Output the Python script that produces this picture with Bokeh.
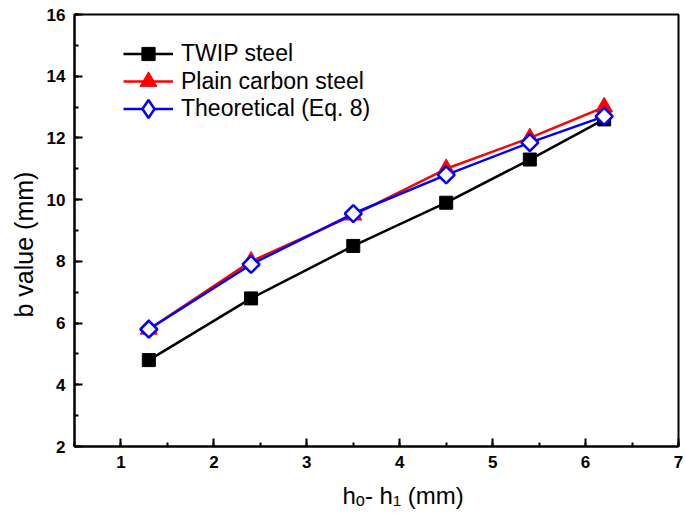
import math
from bokeh.plotting import figure
from bokeh.models import Range1d, SingleIntervalTicker, Legend, LegendItem, Title
from bokeh.embed import file_html
from bokeh.resources import INLINE

# ---- data ----
x_vals = [1.3, 2.4, 3.5, 4.5, 5.4, 6.2]
twip_steel = [4.8, 6.8, 8.5, 9.9, 11.3, 12.6]
plain_carbon = [5.8, 8.0, 9.5, 11.0, 12.0, 13.0]
theoretical = [5.8, 7.9, 9.55, 10.8, 11.85, 12.7]
series_names = ["TWIP steel", "Plain carbon steel", "Theoretical (Eq. 8)"]
y_axis_title = "b value (mm)"
x_axis_title = "h\u2092- h\u2081 (mm)"

FONT = "Liberation Sans"

p = figure(width=685, height=520, output_backend="svg", toolbar_location=None,
           x_range=Range1d(0.5, 7), y_range=Range1d(2, 16),
           min_border_left=74, min_border_right=7, min_border_top=14, min_border_bottom=74)
p.grid.visible = False
p.outline_line_color = "black"
p.outline_line_width = 2
p.background_fill_color = "white"
p.border_fill_color = "white"

p.xaxis.ticker = SingleIntervalTicker(interval=1, num_minor_ticks=2)
p.yaxis.ticker = SingleIntervalTicker(interval=2, num_minor_ticks=2)
for ax in (p.xaxis[0], p.yaxis[0]):
    ax.axis_line_width = 2
    ax.major_tick_line_width = 2
    ax.minor_tick_line_width = 2
    ax.major_tick_in = 8
    ax.major_tick_out = 0
    ax.minor_tick_in = 4
    ax.minor_tick_out = 0
    ax.major_label_text_font = FONT
    ax.major_label_text_font_style = "bold"
    ax.major_label_text_font_size = "17px"
    ax.major_label_text_color = "black"
    ax.major_label_standoff = 9

# ---- series ----
l1 = p.line(x_vals, twip_steel, line_color="black", line_width=2.5)
s1 = p.scatter(x_vals, twip_steel, marker="square", size=13, fill_color="black", line_color="black")
l2 = p.line(x_vals, plain_carbon, line_color="red", line_width=2.5)
s2 = p.scatter(x_vals, plain_carbon, marker="triangle", size=17, fill_color="red", line_color="red")
l3 = p.line(x_vals, theoretical, line_color="blue", line_width=2.5)
s3 = p.scatter(x_vals, theoretical, marker="square", angle=math.pi / 4, size=12,
               fill_color="white", line_color="blue", line_width=2.5)
# legend-only twin of the theoretical markers (legend glyphs are never rotated)
s3_leg = p.scatter(x_vals, theoretical, marker="diamond", size=18,
                   fill_color="white", line_color="blue", line_width=2.5, visible=False)

# one legend per row so that each legend marker keeps its own size
rows = [(series_names[0], [l1, s1], 33, 376),
        (series_names[1], [l2, s2], 42, 344),
        (series_names[2], [l3, s3_leg], 45, 315)]
for name, rends, gh, yoff in rows:
    lg = Legend(items=[LegendItem(label=name, renderers=rends)],
                location=(49, yoff), padding=0, margin=0, spacing=0,
                glyph_width=50, glyph_height=gh, label_height=gh, label_standoff=8,
                label_text_font=FONT, label_text_font_size="23px",
                label_text_color="black", click_policy="none",
                border_line_color=None, background_fill_alpha=0)
    p.add_layout(lg)

# ---- axis titles ----
p.add_layout(Title(text=x_axis_title, align="left", offset=268, standoff=19,
                   text_font=FONT, text_font_size="24px", text_font_style="normal",
                   text_color="black"), "below")
p.add_layout(Title(text=y_axis_title, align="left", offset=129, standoff=12,
                   text_font=FONT, text_font_size="25px", text_font_style="normal",
                   text_color="black"), "left")

open("out.html", "w").write(file_html(p, INLINE))
